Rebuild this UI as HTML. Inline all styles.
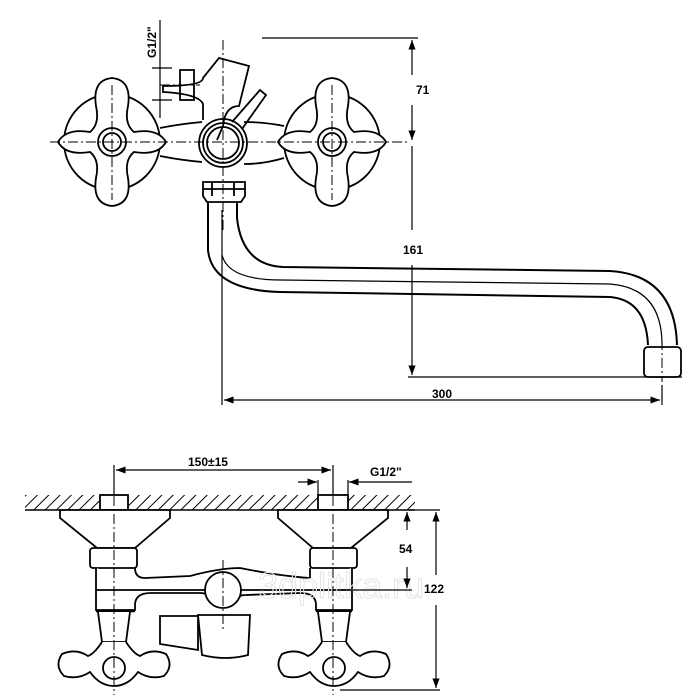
<!DOCTYPE html>
<html><head><style>html,body{margin:0;padding:0;background:#fff;}svg{display:block}text{font-family:"Liberation Sans",sans-serif;font-size:12px;font-weight:bold;fill:#000}</style></head>
<body>
<svg width="700" height="700" viewBox="0 0 700 700" xmlns="http://www.w3.org/2000/svg">
<defs>
<pattern id="h" width="8" height="8" patternUnits="userSpaceOnUse" patternTransform="rotate(45)"><line x1="0" y1="0" x2="0" y2="8" stroke="#000" stroke-width="2"/></pattern>
<marker id="a" markerWidth="8" markerHeight="6" refX="8" refY="3" orient="auto-start-reverse"><path d="M0,0 L8,3 L0,6 z" fill="#000"/></marker>
</defs>
<g fill="none" stroke="#000" stroke-width="1.8">
<circle cx="112" cy="142" r="48"/>
<path d="M58,142 q8,-14 32,-10 q10,-8 6,-26 q-4,-26 16,-28 q20,2 16,28 q-4,18 6,26 q24,-4 32,10 q-8,14 -32,10 q-10,8 -6,26 q4,26 -16,28 q-20,-2 -16,-28 q4,-18 -6,-26 q-24,4 -32,-10z" fill="#fff"/>
<circle cx="112" cy="142" r="14"/><circle cx="112" cy="142" r="9"/>
<circle cx="332" cy="142" r="48"/>
<path d="M278,142 q8,-14 32,-10 q10,-8 6,-26 q-4,-26 16,-28 q20,2 16,28 q-4,18 6,26 q24,-4 32,10 q-8,14 -32,10 q-10,8 -6,26 q4,26 -16,28 q-20,-2 -16,-28 q4,-18 -6,-26 q-24,4 -32,-10z" fill="#fff"/>
<circle cx="332" cy="142" r="14"/><circle cx="332" cy="142" r="9"/>
<path d="M160,128 q20,-4 42,-6 M160,156 q20,4 42,6 M244,122 q20,0 40,4 M244,164 q20,0 40,-6"/>
<path d="M203,120 v-16 q-4,-10 -40,-12 v-6 q40,0 40,-8 l16,-20 l30,8 l-10,40 q-14,0 -16,20 l-6,14"/>
<rect x="180" y="70" width="14" height="30"/>
<path d="M232,122 l28,-32 l6,5 l-24,34"/>
<circle cx="223" cy="143" r="24"/><circle cx="223" cy="143" r="20"/><circle cx="223" cy="143" r="16"/>
<path d="M203,182 h42 v14 l-4,6 h-34 l-4,-6z M212,182 v14 M234,182 v14 M203,189 h42"/>
<path d="M208,202 V250 Q212,290 280,292 L610,297 Q646,300 648,345" stroke-width="2"/>
<path d="M237,202 V218 Q242,265 283,267 L610,271 Q675,275 677,345" stroke-width="2"/>
<path d="M222,255 Q228,280 281,280 L610,284 Q662,288 662,345" stroke-width="1.2"/>
<rect x="644" y="347" width="37" height="30" rx="4"/>
</g>
<g fill="none" stroke="#000" stroke-width="1" stroke-dasharray="10,3,2,3">
<line x1="50" y1="142" x2="410" y2="142"/>
<line x1="223" y1="40" x2="223" y2="230"/>
<line x1="112" y1="85" x2="112" y2="200"/>
<line x1="332" y1="85" x2="332" y2="200"/>
<line x1="662" y1="340" x2="662" y2="382"/>
<line x1="160" y1="85" x2="200" y2="85"/>
</g>
<g fill="none" stroke="#000" stroke-width="1.2">
<line x1="262" y1="38" x2="418" y2="38"/>
<line x1="412" y1="40" x2="412" y2="75" marker-start="url(#a)"/>
<line x1="412" y1="105" x2="412" y2="140" marker-end="url(#a)"/>
<line x1="412" y1="146" x2="412" y2="230"/>
<line x1="412" y1="265" x2="412" y2="375" marker-end="url(#a)"/>
<line x1="408" y1="377" x2="682" y2="377"/>
<line x1="222" y1="210" x2="222" y2="405"/>
<line x1="662" y1="385" x2="662" y2="405"/>
<line x1="224" y1="400" x2="660" y2="400" marker-start="url(#a)" marker-end="url(#a)"/>
<line x1="160" y1="20" x2="160" y2="118" />
<line x1="152" y1="68" x2="172" y2="68"/><line x1="152" y1="100" x2="172" y2="100"/>
</g>
<text x="416" y="94">71</text>
<text x="403" y="254">161</text>
<text x="432" y="398">300</text>
<text transform="translate(156,58) rotate(-90)">G1/2"</text>

<rect x="25" y="495" width="390" height="15" fill="url(#h)"/>
<line x1="25" y1="510" x2="415" y2="510" stroke="#000" stroke-width="1.6"/>
<g fill="#fff" stroke="#000" stroke-width="1.8">
<rect x="100" y="495" width="28" height="15"/>
<rect x="318" y="495" width="30" height="15"/>
<path d="M60,510 h110 v8 l-35,30 h-38 l-37,-30z"/>
<path d="M278,510 h110 v8 l-37,30 h-38 l-35,-30z"/>
<rect x="90" y="548" width="47" height="20" rx="3"/>
<rect x="310" y="548" width="47" height="20" rx="3"/>
<path d="M96,568 V610 H135 V605 q0,-12 16,-12 L200,593 q10,0 14,10 M232,603 q4,-8 14,-8 L300,593 q16,0 16,12 V610 H352 V568"/>
<path d="M135,568 q0,10 10,10 L190,576 q30,-8 50,-8 q40,8 70,10 V568"/>
<line x1="96" y1="590" x2="352" y2="590"/>
<line x1="96" y1="611" x2="135" y2="611" stroke-width="2.5"/>
<line x1="316" y1="611" x2="352" y2="611" stroke-width="2.5"/>
<path d="M98,612 l4,30 h24 l4,-30"/>
<path d="M318,612 l4,30 h24 l4,-30"/>
<path d="M160,616 h38 v34 l-38,-6z"/>
<path d="M198,615 h52 l-2,40 q-22,6 -46,0z"/>
<circle cx="223" cy="590" r="18"/>
<path d="M102,642 q-8,12 -14,14 q-12,-8 -26,-2 q-8,12 2,22 q14,4 26,-4 q10,14 24,14 q14,0 24,-14 q12,8 26,4 q10,-10 2,-22 q-14,-6 -26,2 q-6,-2 -14,-14"/>
<path d="M322,642 q-8,12 -14,14 q-12,-8 -26,-2 q-8,12 2,22 q14,4 26,-4 q10,14 24,14 q14,0 24,-14 q12,8 26,4 q10,-10 2,-22 q-14,-6 -26,2 q-6,-2 -14,-14"/>
<circle cx="114" cy="668" r="11"/><circle cx="334" cy="668" r="11"/>
</g>
<text x="258" y="598" style="font-size:36px;font-weight:normal;fill:none;stroke:#e4e4e4;stroke-width:1">3dplitka.ru</text>
<g fill="none" stroke="#000" stroke-width="1" stroke-dasharray="10,3,2,3">
<line x1="114" y1="478" x2="114" y2="695"/>
<line x1="333" y1="478" x2="333" y2="695"/>
<line x1="223" y1="560" x2="223" y2="630"/>
</g>
<g fill="none" stroke="#000" stroke-width="1.2">
<line x1="114" y1="465" x2="114" y2="495"/>
<line x1="333" y1="465" x2="333" y2="495"/>
<line x1="116" y1="470" x2="331" y2="470" marker-start="url(#a)" marker-end="url(#a)"/>
<line x1="318" y1="480" x2="318" y2="495"/><line x1="348" y1="480" x2="348" y2="495"/>
<line x1="298" y1="482" x2="317" y2="482" marker-end="url(#a)"/>
<line x1="349" y1="482" x2="412" y2="482" marker-start="url(#a)"/>
<line x1="408" y1="510" x2="440" y2="510"/>
<line x1="407" y1="512" x2="407" y2="530" marker-start="url(#a)"/>
<line x1="407" y1="567" x2="407" y2="588" marker-end="url(#a)"/>
<line x1="338" y1="590" x2="412" y2="590"/>
<line x1="436" y1="512" x2="436" y2="575" marker-start="url(#a)"/>
<line x1="436" y1="605" x2="436" y2="688" marker-end="url(#a)"/>
<line x1="340" y1="690" x2="440" y2="690"/>
</g>
<text x="188" y="466">150±15</text>
<text x="370" y="476">G1/2"</text>
<text x="399" y="553">54</text>
<text x="424" y="593">122</text>
</svg>
</body></html>
